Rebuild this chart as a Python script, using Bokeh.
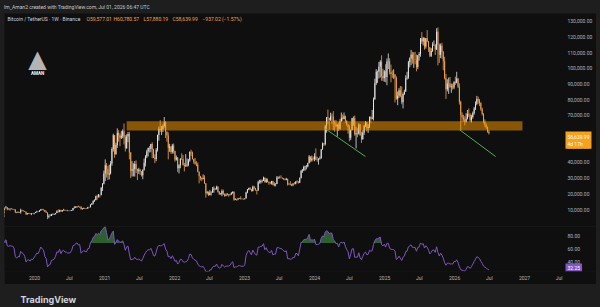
import numpy as np
import pandas as pd
from bokeh.plotting import figure
from bokeh.layouts import column
from bokeh.models import (Range1d, LinearAxis, FixedTicker, NumeralTickFormatter,
                          Label, ColumnDataSource)
from bokeh.embed import file_html
from bokeh.resources import INLINE

# ---------------- data (weekly BTC/USDT, thousands of USD) ----------------
first_week = "2019-04-08"
first_open = 5.0
close_k = [
    5.1,5.3,5.2,5.8,7.0,8.0,8.7,8.6,7.7,8.9,10.7,10.8,11.5,10.2,9.9,9.5,
    10.8,11.3,10.2,10.1,10.4,10.3,10.3,10.0,8.3,7.9,8.3,8.2,9.5,9.2,9.0,8.5,7.0,7.4,7.5,7.1,7.5,7.4,7.8,
    8.2,8.7,8.6,9.3,10.2,9.9,9.7,8.5,8.0,5.4,5.8,5.9,6.8,6.9,7.1,7.7,8.9,8.7,9.7,8.7,9.5,9.7,9.3,9.3,9.1,9.1,9.2,9.7,11.0,11.1,11.7,11.9,11.6,11.7,10.3,10.7,10.9,10.8,10.7,11.4,11.5,13.1,13.8,15.5,16.0,18.4,18.2,19.4,19.2,23.9,26.5,33.0,
    38.2,35.8,32.3,33.1,39.3,48.6,57.4,45.2,51.2,59.0,57.4,55.8,57.1,60.0,56.1,49.1,56.6,58.2,46.4,34.7,35.7,35.8,39.1,35.5,34.7,35.3,34.3,31.8,35.4,39.9,43.8,47.0,49.3,48.8,51.8,48.3,43.0,42.2,48.2,57.5,61.5,60.9,61.3,63.3,65.5,59.7,57.3,49.4,50.1,46.7,50.8,47.3,
    41.9,43.1,36.3,38.2,42.4,42.2,38.4,37.7,38.1,38.8,41.3,46.8,46.4,42.2,40.4,39.4,38.5,34.1,31.3,30.1,29.4,29.9,26.6,20.6,21.0,19.3,20.8,20.8,22.6,23.3,22.9,24.4,21.1,19.6,19.8,21.8,20.1,18.8,19.3,19.4,19.2,19.6,20.6,21.3,16.3,16.7,16.5,17.1,17.1,16.8,16.8,16.6,
    17.1,20.9,22.8,23.8,22.9,21.8,24.6,23.5,22.4,22.1,27.5,27.5,28.2,28.3,30.3,27.6,29.2,27.6,27.0,26.7,28.1,25.8,26.3,26.3,30.5,30.6,30.3,30.2,29.9,29.3,29.0,29.4,26.0,26.0,25.8,25.8,26.5,26.3,27.9,27.9,27.1,30.0,34.5,35.0,37.1,37.4,37.5,39.5,43.8,41.4,42.6,42.3,
    43.9,41.7,41.6,42.0,42.6,48.3,52.1,51.7,63.1,68.9,68.4,67.2,69.6,69.4,65.7,64.9,63.1,63.9,61.5,66.3,68.5,67.8,69.6,66.7,64.3,62.7,55.8,60.8,68.2,68.3,58.1,58.7,58.4,64.2,57.3,54.8,59.1,63.5,65.6,62.1,62.8,69.0,67.9,68.7,80.4,90.6,97.9,98.0,101.1,104.3,95.2,93.7,98.3,
    94.5,104.5,104.7,97.7,96.5,96.1,96.1,94.2,80.7,82.6,86.1,82.6,78.4,83.7,85.3,93.7,94.3,104.0,106.5,109.0,105.7,105.7,105.6,101.0,108.4,109.2,119.1,117.3,119.4,114.1,119.3,117.4,113.5,108.2,111.1,115.3,115.3,112.2,123.5,115.1,108.7,114.5,110.6,104.7,94.0,86.8,90.4,90.4,88.2,88.5,87.8,91.5,
    90.9,93.6,88.3,78.6,70.5,68.8,67.5,66.0,68.0,71.0,70.5,67.0,69.0,71.5,74.5,77.5,80.5,79.5,78.0,74.0,71.0,66.0,64.0,62.5,59.57701,58.63999,
]
high_k = [
    5.4,5.4,5.6,5.9,7.5,8.4,8.9,9.1,8.8,9.4,11.2,13.9,13.2,13.1,11.1,10.2,
    11.1,12.3,11.5,10.9,10.6,10.9,10.5,10.3,10.0,8.5,8.8,8.4,10.5,9.9,9.5,9.1,8.5,7.8,7.8,7.6,7.7,7.6,7.9,
    8.5,9.2,8.8,9.6,10.2,10.5,10.2,9.8,9.2,8.2,6.9,6.9,7.2,7.5,7.3,7.8,9.5,10.1,9.9,9.8,9.7,10.4,9.9,9.6,9.8,9.3,9.4,9.7,11.0,12.1,12.1,12.1,12.5,11.8,12.1,10.8,11.2,10.9,10.9,11.7,11.7,13.4,14.1,15.9,16.5,18.8,19.4,19.9,19.4,24.3,26.9,34.8,
    42.0,39.7,37.9,38.6,40.9,49.7,58.4,57.5,52.6,61.8,60.6,58.6,60.2,61.2,64.9,57.5,58.0,59.5,59.6,46.6,40.9,39.5,40.9,41.3,36.0,36.6,35.9,34.6,35.6,42.6,44.7,48.1,49.5,50.5,51.9,52.9,48.8,45.2,49.2,57.8,62.9,67.0,63.3,64.3,69.0,66.3,59.9,59.2,51.9,50.5,51.9,52.1,
    47.6,44.5,43.5,38.9,42.7,45.9,44.8,39.8,45.4,42.6,42.3,47.0,48.2,47.0,42.4,42.9,40.8,40.0,34.3,31.5,30.6,32.4,31.8,26.9,21.9,21.6,22.5,21.6,24.3,24.7,23.7,25.2,25.0,21.8,20.6,22.8,22.7,20.2,20.2,20.5,19.9,19.7,21.1,21.5,21.5,17.2,16.8,17.4,17.4,18.4,17.1,16.9,
    17.2,21.3,23.1,23.9,24.3,23.2,25.2,25.1,23.9,22.6,28.4,28.9,29.2,29.0,31.0,30.5,30.0,29.8,28.0,27.7,28.3,28.4,27.4,26.8,31.4,31.0,31.5,31.8,30.4,30.0,29.8,30.2,29.7,26.8,28.1,26.4,26.9,27.5,28.0,28.6,28.0,30.5,35.3,35.9,38.0,37.9,38.4,39.8,44.7,43.9,44.4,43.8,
    45.9,49.0,43.6,42.8,43.9,48.6,52.8,52.5,64.0,69.0,73.8,68.6,71.8,71.3,72.8,66.9,67.2,64.7,65.5,67.7,71.9,70.6,71.9,70.0,66.9,64.5,63.8,61.0,68.5,69.4,70.0,62.7,61.8,65.0,64.5,59.8,60.6,64.1,66.5,65.7,64.5,69.4,69.5,73.6,81.5,93.5,99.6,98.7,104.1,105.3,108.4,99.9,99.0,
    102.7,106.4,109.6,106.5,102.5,98.8,99.5,96.5,95.0,85.3,87.5,88.8,88.5,84.7,86.5,95.7,97.9,104.9,107.1,111.9,110.7,110.4,110.6,108.9,108.5,110.5,119.5,123.2,120.2,119.8,119.4,124.5,117.6,113.6,113.0,116.8,117.9,115.5,125.7,126.2,116.0,115.9,116.4,111.2,107.5,96.6,93.1,94.2,94.6,90.4,90.3,91.8,
    94.8,97.9,93.8,90.5,79.5,72.0,70.5,69.5,71.5,73.5,74.5,71.5,70.5,72.5,75.5,79.0,82.5,82.0,80.5,78.5,75.0,71.5,67.5,65.0,63.0,60.78057,
]
low_k = [
    4.9,5.0,5.0,5.1,5.7,6.6,7.5,8.0,7.4,7.5,8.9,10.3,9.6,9.9,9.1,9.1,
    9.4,10.8,9.5,9.8,9.3,10.0,10.0,9.6,7.7,7.7,7.8,7.8,7.3,8.9,8.7,8.4,6.5,6.8,7.1,6.9,6.4,7.1,6.9,
    7.7,8.1,8.3,8.5,9.1,9.6,9.3,8.4,7.8,3.8,4.4,5.7,5.9,6.5,6.5,6.8,7.7,8.1,8.2,8.6,8.6,9.3,9.1,9.2,8.9,8.9,9.1,9.1,9.2,10.6,11.1,11.1,11.5,11.1,9.9,9.9,10.3,10.2,10.4,10.5,11.2,11.4,12.9,13.3,14.9,15.8,16.3,17.6,17.6,19.0,21.8,26.0,
    28.1,30.4,28.8,29.2,32.3,37.9,47.0,43.0,45.0,49.3,53.3,50.4,55.0,55.5,51.5,47.0,48.8,52.9,42.0,30.0,31.1,31.1,31.0,33.3,28.8,32.7,32.1,31.0,29.3,34.8,37.5,42.8,43.9,46.4,46.5,42.8,42.9,39.6,40.8,47.0,53.9,59.5,57.5,59.4,62.3,55.6,53.3,42.0,46.8,45.5,45.6,45.7,
    40.5,41.2,34.0,33.0,36.3,41.7,38.0,34.3,37.2,37.2,37.6,40.5,44.2,41.9,39.2,38.5,37.6,33.7,26.7,28.6,28.0,29.2,26.5,17.6,19.6,18.6,19.0,18.9,20.7,20.7,22.4,22.7,20.8,19.5,19.5,18.5,19.3,18.1,18.5,19.0,18.2,18.9,19.3,20.0,15.6,16.2,15.5,16.0,16.7,16.3,16.5,16.3,
    16.5,17.1,20.4,22.3,22.5,21.4,21.5,22.8,21.9,19.6,21.9,26.6,26.5,27.2,28.2,27.1,26.9,27.3,25.8,26.1,25.9,25.4,24.8,24.8,26.2,29.5,29.7,29.9,29.5,28.9,28.6,28.7,25.2,25.7,25.4,24.9,24.9,26.0,26.0,27.2,26.5,26.9,29.9,33.4,34.5,34.8,35.6,36.9,39.5,40.2,40.5,41.3,
    40.8,41.5,40.5,38.6,41.9,42.6,48.2,50.5,50.9,59.0,64.5,60.8,66.5,64.5,60.7,59.6,62.4,56.6,60.2,60.8,66.0,66.6,67.6,65.1,63.4,58.4,53.5,54.3,60.6,63.5,57.1,49.0,56.1,57.8,57.2,52.5,54.6,57.6,62.7,59.8,58.9,62.1,65.0,67.5,66.8,80.0,89.4,90.8,93.6,94.2,92.2,92.0,91.5,
    91.2,89.3,99.6,96.2,91.2,94.1,93.4,78.3,80.0,76.6,81.2,81.6,77.2,74.5,83.1,85.1,92.8,93.4,100.7,102.1,103.1,100.4,102.7,98.2,99.6,105.1,107.5,115.7,114.7,112.0,112.7,116.8,110.6,107.3,107.3,110.6,114.4,108.6,111.8,102.0,103.5,106.6,106.3,98.9,93.0,80.6,85.4,83.8,87.6,84.5,86.5,86.8,
    89.5,90.5,87.5,77.0,60.5,65.8,66.0,63.8,65.5,67.5,69.0,66.0,65.5,68.0,70.5,73.5,76.5,77.5,76.0,73.0,70.0,65.0,62.5,61.5,59.0,57.88019,
]

price_ticks = [10000, 20000, 30000, 40000, 50000, 70000, 80000, 90000,
               100000, 110000, 120000, 130000]
rsi_ticks = [40, 60, 80]
x_tick_dates = ["2020-01-01", "2020-07-01", "2021-01-01", "2021-07-01",
                "2022-01-01", "2022-07-01", "2023-01-01", "2023-07-01",
                "2024-01-01", "2024-07-01", "2025-01-01", "2025-07-01",
                "2026-01-01", "2026-07-01", "2027-01-01", "2027-07-01"]
x_tick_labels = ["2020", "Jul", "2021", "Jul", "2022", "Jul", "2023", "Jul",
                 "2024", "Jul", "2025", "Jul", "2026", "Jul", "2027", "Jul"]

zone_dates = ["2021-04-26", "2026-12-21"]
zone_prices = [60400, 66400]
trend1_dates = ["2024-02-27", "2024-09-23"]
trend1_prices = [61500, 43800]
trend2_dates = ["2026-01-27", "2026-08-03"]
trend2_prices = [60900, 43800]

last_price_text = "58,639.99"
countdown_text = "4d 17h"
rsi_last = 32.25
header_text = "Im_Aman2 created with TradingView.com, Jul 01, 2026 06:47 UTC"
symbol_text = "Bitcoin / TetherUS \u00b7 1W \u00b7 Binance"
ohlc_texts = ["O59,577.01", "H60,780.57", "L57,880.19", "C58,639.99", "\u2212937.02 (\u22121.57%)"]

# ---------------- styling ----------------
FONT = "Roboto"
BG_FRAME = "#1e1e1e"
BG_CHART = "#0f0f0f"
UP = "#e6e6e6"
DOWN = "#f2a24e"
TXT = "#b2b5be"

if not (len(close_k) == len(high_k) == len(low_k)):
    raise ValueError(f"length mismatch {len(close_k)} {len(high_k)} {len(low_k)}")

dates = pd.date_range(first_week, periods=len(close_k), freq="7D")
c = np.array(close_k) * 1000
o = np.array([first_open] + close_k[:-1]) * 1000
h = np.maximum(np.array(high_k) * 1000, np.maximum(o, c))
l = np.minimum(np.array(low_k) * 1000, np.minimum(o, c))
up = c >= o
src = ColumnDataSource(dict(
    x=dates, h=h, l=l, top=np.maximum(o, c), bot=np.minimum(o, c),
    col=[UP if u else DOWN for u in up]))

# RSI 14 (Wilder)
cs = pd.Series(c)
d = cs.diff()
ag = d.clip(lower=0).ewm(alpha=1 / 14, adjust=False).mean()
al = (-d.clip(upper=0)).ewm(alpha=1 / 14, adjust=False).mean()
rsi = (100 - 100 / (1 + ag / al)).to_numpy()

# the frame spans the whole pane incl. the price-scale strip on the right
x_range = Range1d(pd.Timestamp("2019-07-28 11:00"), pd.Timestamp("2028-01-11 10:00"))
AX_STANDOFF = -29  # puts the price-scale labels inside the right strip


def right_axis(ticks, fmt):
    return LinearAxis(ticker=FixedTicker(ticks=ticks),
                      formatter=NumeralTickFormatter(format=fmt),
                      axis_line_color=None, major_tick_line_color=None,
                      minor_tick_line_color=None, major_tick_out=0, major_tick_in=0,
                      minor_tick_out=0, minor_tick_in=0,
                      major_label_text_color=TXT, major_label_text_font_size="5px",
                      major_label_text_font=FONT, major_label_standoff=AX_STANDOFF)


# ---------------- header ----------------
hdr = figure(width=600, height=13, x_range=Range1d(0, 600), y_range=Range1d(0, 13),
             x_axis_type=None, y_axis_type=None, toolbar_location=None,
             output_backend="svg", min_border=0, background_fill_color=BG_FRAME,
             border_fill_color=BG_FRAME, outline_line_color=None)
hdr.add_layout(Label(x=3.5, y=6.5, text=header_text, text_font=FONT,
                     text_font_size="5px", text_color="#c8c8c8", text_baseline="middle"))

# ---------------- price pane ----------------
p = figure(width=592, height=213, x_range=x_range, y_range=Range1d(-851, 135106),
           x_axis_type=None, y_axis_type=None, toolbar_location=None,
           output_backend="svg", min_border_left=0, min_border_right=0,
           min_border_top=0, min_border_bottom=0, background_fill_color=BG_CHART,
           border_fill_color=BG_CHART, outline_line_color=None, margin=(0, 4, 0, 4))
p.add_layout(right_axis(price_ticks, "0,0.00"), "right")

p.segment(x0="x", y0="l", x1="x", y1="h", line_color="col", line_width=0.8, source=src)
p.vbar(x="x", width=5 * 86400000, top="top", bottom="bot", fill_color="col",
       line_color=None, source=src)

zd = pd.to_datetime(zone_dates)
p.quad(left=[zd[0]], right=[zd[1]], bottom=[zone_prices[0]], top=[zone_prices[1]],
       fill_color="#ffa000", fill_alpha=0.5, line_color=None)
p.line(x=pd.to_datetime(trend1_dates), y=trend1_prices, line_color="#4caf50", line_width=1)
p.line(x=pd.to_datetime(trend2_dates), y=trend2_prices, line_color="#4caf50", line_width=1)

p.add_layout(Label(x=3, y=208, x_units="screen", y_units="screen", text=symbol_text,
                   text_font=FONT, text_font_size="5px", text_color="#d1d4dc",
                   text_baseline="middle"))
for xs, t in zip([82, 109, 139, 168, 198], ohlc_texts):
    p.add_layout(Label(x=xs, y=208, x_units="screen", y_units="screen", text=t,
                       text_font=FONT, text_font_size="5px", text_color=DOWN,
                       text_baseline="middle"))
# watermark logo
p.add_layout(Label(x=33, y=168, x_units="screen", y_units="screen", text="\u25b2",
                   text_font="DejaVu Sans", text_font_size="24px", text_color="white",
                   text_alpha=0.7, text_align="center", text_baseline="middle"))
p.add_layout(Label(x=33, y=153, x_units="screen", y_units="screen", text="AMAN",
                   text_font=FONT, text_font_size="4.5px", text_font_style="bold",
                   text_color="white", text_align="center", text_baseline="middle"))
# last price label on the price scale
p.add_layout(Label(x=561, y=95, x_units="screen", y_units="screen",
                   text=last_price_text + "\n" + countdown_text, text_font=FONT,
                   text_font_size="5px", text_color="white", text_baseline="top",
                   background_fill_color="#f7a21b", padding=2))

# ---------------- RSI pane ----------------
r = figure(width=592, height=58, x_range=x_range, y_range=Range1d(26.15, 95.38),
           x_axis_type=None, y_axis_type=None, toolbar_location=None,
           output_backend="svg", min_border_left=0, min_border_right=0,
           min_border_top=0, min_border_bottom=13, background_fill_color=BG_CHART,
           border_fill_color=BG_CHART, outline_line_color=None, margin=(0, 4, 0, 4))
tick_ms = [float(pd.Timestamp(t).value // 10**6) for t in x_tick_dates]
xax = LinearAxis(ticker=FixedTicker(ticks=tick_ms),
                 major_label_overrides={k: v for k, v in zip(tick_ms, x_tick_labels)},
                 axis_line_color=None, major_tick_line_color=None,
                 minor_tick_line_color=None, major_tick_out=0, major_tick_in=0,
                 minor_tick_out=0, minor_tick_in=0, major_label_text_color=TXT,
                 major_label_text_font_size="5px", major_label_text_font=FONT,
                 major_label_standoff=3)
r.add_layout(xax, "below")
r.add_layout(right_axis(rsi_ticks, "0.00"), "right")
r.varea(x=dates, y1=70, y2=np.maximum(rsi, 70), fill_color="#4caf50", fill_alpha=0.5)
r.line(x=dates, y=rsi, line_color="#7e57c2", line_width=1)
r.add_layout(Label(x=561, y=rsi_last, x_units="screen", text=f"{rsi_last:.2f}",
                   text_font=FONT, text_font_size="5px", text_color="white",
                   text_baseline="middle", background_fill_color="#7e57c2", padding=2))

# ---------------- footer ----------------
ftr = figure(width=600, height=23, x_range=Range1d(0, 600), y_range=Range1d(0, 23),
             x_axis_type=None, y_axis_type=None, toolbar_location=None,
             output_backend="svg", min_border=0, background_fill_color=BG_FRAME,
             border_fill_color=BG_FRAME, outline_line_color=None)
ftr.add_layout(Label(x=20, y=8, text="TradingView", text_font="Inter",
                     text_font_size="9px", text_font_style="bold",
                     text_color="#d1d4dc", text_baseline="middle"))

layout = column(hdr, p, r, ftr, styles={"background-color": BG_FRAME})
open("out.html", "w").write(file_html(layout, INLINE))
